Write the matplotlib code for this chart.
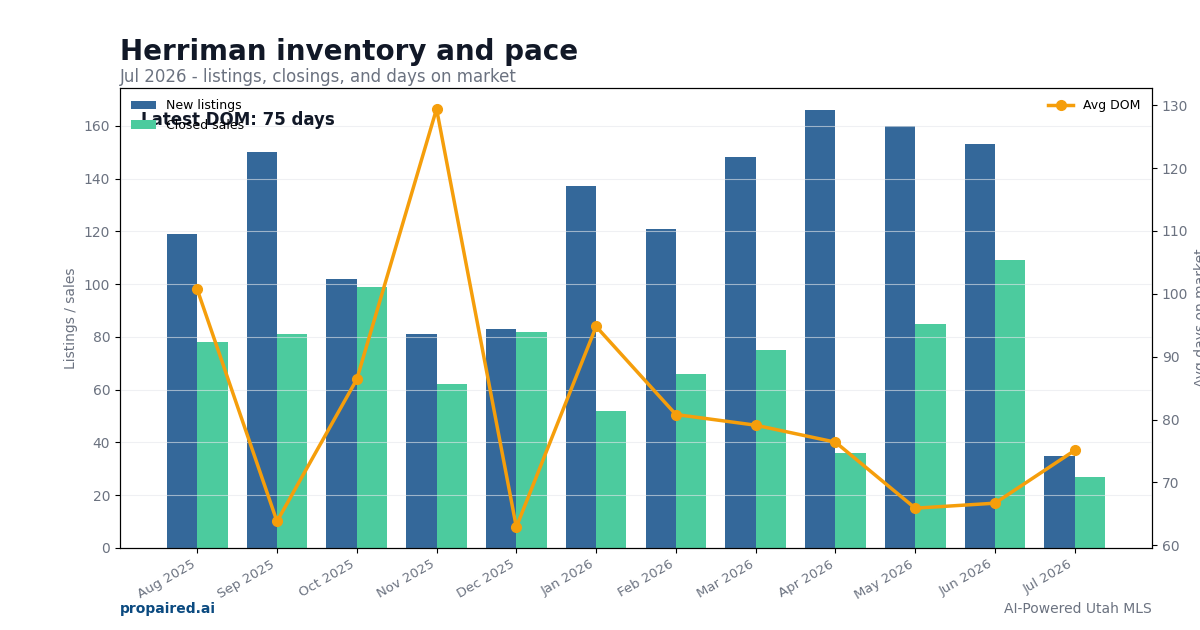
import numpy as np
import matplotlib.pyplot as plt

months = ['Aug 2025', 'Sep 2025', 'Oct 2025', 'Nov 2025', 'Dec 2025', 'Jan 2026',
          'Feb 2026', 'Mar 2026', 'Apr 2026', 'May 2026', 'Jun 2026', 'Jul 2026']
new_listings = [119, 150, 102, 81, 83, 137, 121, 148, 166, 160, 153, 35]
closed_sales = [78, 81, 99, 62, 82, 52, 66, 75, 36, 85, 109, 27]
avg_dom = [100.7, 63.8, 86.4, 129.4, 62.9, 94.8, 80.8, 79.1, 76.4, 65.9, 66.7, 75.1]

blue = '#34689a'
green = '#4ccb9e'
orange = '#f59e0b'
gray = '#6b7280'

fig = plt.figure(figsize=(12, 6.3), dpi=100)
ax = fig.add_axes([0.1, 0.1302, 0.86, 0.7301])

x = np.arange(len(months))
w = 0.38
ax.bar(x - w / 2, new_listings, w, color=blue, label='New listings', zorder=1)
ax.bar(x + w / 2, closed_sales, w, color=green, label='Closed sales', zorder=1)
ax.set_ylim(0, max(new_listings) * 1.05)
ax.set_ylabel('Listings / sales', color=gray, fontsize=10)
ax.set_xticks(x)
ax.set_xticklabels(months, rotation=30, ha='right', fontsize=9.5, color=gray)
ax.tick_params(axis='y', colors=gray, labelsize=10)
ax.tick_params(axis='y', color='black')
ax.tick_params(axis='x', colors='black', labelcolor=gray)
ax.yaxis.grid(True, color='#e5e7eb', alpha=0.6, linewidth=0.8)
ax.set_axisbelow(False)

ax2 = ax.twinx()
ax2.plot(x, avg_dom, color=orange, linewidth=2.5, marker='o', markersize=7, label='Avg DOM')
ax2.set_ylabel('Avg days on market', color=gray, fontsize=10)
ax2.tick_params(axis='y', colors=gray, labelsize=10)
ax2.tick_params(axis='y', color='black')

ax.legend(loc='upper left', frameon=False, fontsize=9)
ax2.legend(loc='upper right', frameon=False, fontsize=9)

ax.text(0.02, 0.919, 'Latest DOM: %d days' % round(avg_dom[-1]), transform=ax.transAxes,
        fontsize=12, fontweight='bold', color='#111827', zorder=5)

fig.text(0.1, 0.917, 'Herriman inventory and pace', fontsize=20, fontweight='bold',
         color='#111827', va='center')
fig.text(0.1, 0.877, 'Jul 2026 - listings, closings, and days on market', fontsize=12,
         color=gray, va='center')
fig.text(0.1, 0.033, 'propaired.ai', fontsize=10, fontweight='bold', color='#0b4a80', va='center')
fig.text(0.96, 0.033, 'AI-Powered Utah MLS', fontsize=10, color=gray, va='center', ha='right')

fig.savefig('out.png', dpi=100)
